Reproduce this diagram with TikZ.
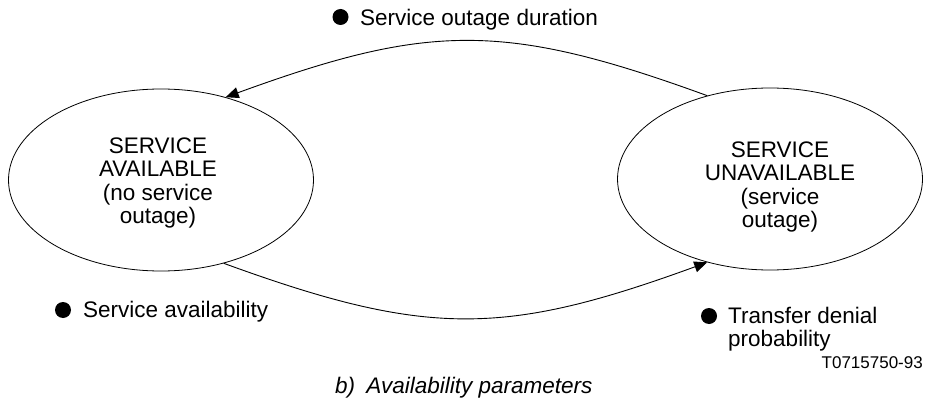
\documentclass[tikz,border=0pt]{standalone}
\usepackage{fontspec}
\setmainfont{Liberation Sans}
\usetikzlibrary{shapes.geometric,arrows.meta}

\begin{document}
\begin{tikzpicture}[x=1pt,y=-1pt,
  state/.style={draw,ellipse,line width=0.8pt,minimum width=305pt,minimum height=182pt,inner sep=0pt},
  statetext/.style={align=center,inner sep=0pt,font=\fontsize{22.5}{23.3}\selectfont},
  note/.style={inner sep=0pt,font=\fontsize{22.5}{23.3}\selectfont},
  bulletdot/.style={circle,fill,inner sep=0pt,minimum size=16pt},
  flow/.style={line width=0.9pt,-{Triangle[length=13pt,width=11pt]}}]
\pgfmathsetmacro{\ctrlx}{203};
\pgfmathsetmacro{\ctrly}{74};

\useasboundingbox (0,0) rectangle (926,401);

\node[state] (avail) at (161,180) {};
\node[state] (unavail) at (770,179) {};
\node[statetext] (availtext) at (158,183) {SERVICE\\AVAILABLE\\(no service\\outage)};
\node[statetext] (unavailtext) at (780,187) {SERVICE\\UNAVAILABLE\\(service\\outage)};

\draw[flow] (unavail.127) .. controls +(-\ctrlx,-\ctrly) and +(\ctrlx,-\ctrly) .. (avail.52);
\draw[flow] (avail.-53) .. controls +(\ctrlx,\ctrly) and +(-\ctrlx,\ctrly) .. (unavail.233);

\node[bulletdot] (dotdur) at (340.5,17) {};
\node[note,anchor=base west] (duration) at (360,26) {Service outage duration};
\node[bulletdot] (dotavail) at (63,310) {};
\node[note,anchor=base west] (availability) at (83,317) {Service availability};
\node[bulletdot] (dotdenial) at (709,316) {};
\node[note,anchor=north west,align=left] (denial) at (728,306.6) {Transfer denial\\probability};

\node[inner sep=0pt,anchor=base east,font=\fontsize{17}{19}\selectfont] (figref) at (923,368) {T0715750-93};
\node[note,anchor=base west,font=\fontsize{22.5}{23.3}\selectfont\itshape] (caption) at (335,393) {b)\enspace Availability parameters};
\end{tikzpicture}
\end{document}
